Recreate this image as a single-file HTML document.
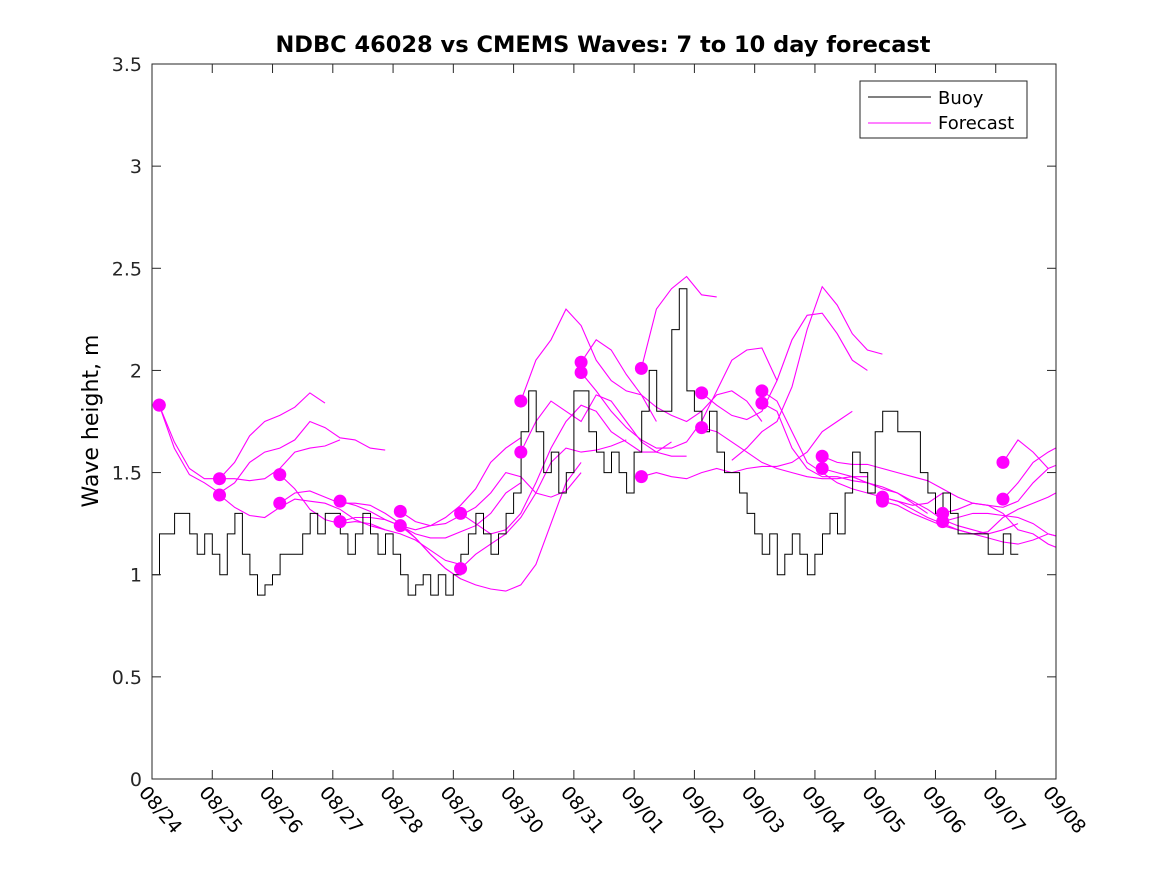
<!DOCTYPE html>
<html><head><meta charset="utf-8"><style>
body{margin:0;background:#fff}
svg{display:block;font-family:"DejaVu Sans","Liberation Sans",sans-serif}
</style></head><body>
<svg id="chart" width="1167" height="875" viewBox="0 0 1167 875">
<rect x="0" y="0" width="1167" height="875" fill="#fff"/>
<text x="603" y="52" text-anchor="middle" font-size="22.5" font-weight="bold">NDBC 46028 vs CMEMS Waves: 7 to 10 day forecast</text>
<text transform="translate(98,421) rotate(-90)" text-anchor="middle" font-size="22">Wave height, m</text>
<defs><clipPath id="pc"><rect x="152" y="64" width="904" height="715"/></clipPath></defs>
<g id="marks" clip-path="url(#pc)"></g>
<g id="dots"></g>
<rect x="152" y="64" width="904" height="715" fill="none" stroke="#262626" stroke-width="1"/>
<g id="axes"></g>
<g>
<rect x="860" y="81" width="167" height="57" fill="#fff" stroke="#262626"/>
<line x1="868" y1="97" x2="931" y2="97" stroke="#000"/>
<text x="938" y="104" font-size="18">Buoy</text>
<line x1="868" y1="123" x2="931" y2="123" stroke="#f0f"/>
<text x="938" y="129" font-size="18">Forecast</text>
</g>
</svg>
<script>
const xTickLabels=["08/24","08/25","08/26","08/27","08/28","08/29","08/30","08/31","09/01","09/02","09/03","09/04","09/05","09/06","09/07","09/08"];
const yTickValues=[0,0.5,1,1.5,2,2.5,3,3.5];
const yTickLabels=["0","0.5","1","1.5","2","2.5","3","3.5"];
// buoy values every 3 hours from 08/24 00:00
const buoyValues=[1.0,1.2,1.2,1.3,1.3,1.2,1.1,1.2,
1.1,1.0,1.2,1.3,1.1,1.0,0.9,0.95,
1.0,1.1,1.1,1.1,1.2,1.3,1.2,1.3,
1.3,1.2,1.1,1.2,1.3,1.2,1.1,1.2,
1.1,1.0,0.9,0.95,1.0,0.9,1.0,0.9,
1.0,1.1,1.2,1.3,1.2,1.1,1.2,1.3,
1.4,1.7,1.9,1.7,1.5,1.6,1.4,1.5,
1.9,1.9,1.7,1.6,1.5,1.6,1.5,1.4,
1.6,1.8,2.0,1.8,1.8,2.2,2.4,1.9,
1.8,1.7,1.8,1.6,1.5,1.5,1.4,1.3,
1.2,1.1,1.2,1.0,1.1,1.2,1.1,1.0,
1.1,1.2,1.3,1.2,1.4,1.6,1.5,1.4,
1.7,1.8,1.8,1.7,1.7,1.7,1.5,1.4,
1.3,1.4,1.3,1.2,1.2,1.2,1.2,1.1,
1.1,1.2,1.1];
// forecast start days (days since 08/24) and values every 6 hours
const fcStarts=[0.12,0.12,1.12,1.12,2.12,2.12,3.12,3.12,4.12,4.12,5.12,5.12,6.12,6.12,7.12,7.12,8.12,8.12,9.12,9.12,9.62,10.12,10.12,11.12,11.12,12.12,12.12,13.12,13.12,14.12,14.12];
const fcHasDot=[1,1,1,1,1,1,1,1,1,1,1,1,1,1,1,1,1,1,1,1,0,1,1,1,1,1,1,1,1,1,1];
const fcValues=[
[1.83,1.65,1.52,1.47,1.47,1.55,1.68,1.75,1.78,1.82,1.89,1.84],
[1.83,1.62,1.49,1.45,1.40,1.45,1.55,1.60,1.62,1.66,1.75,1.72,1.67,1.66,1.62,1.61],
[1.47,1.47,1.46,1.47,1.52,1.60,1.62,1.63,1.66],
[1.39,1.33,1.29,1.28,1.33,1.37,1.36,1.35,1.32,1.27,1.24,1.22],
[1.49,1.42,1.32,1.27,1.25,1.26,1.25,1.22,1.20,1.17,1.12,1.07,1.05],
[1.35,1.40,1.41,1.38,1.35,1.35,1.34,1.30,1.25,1.18,1.10,1.03,0.98],
[1.36,1.34,1.31,1.27,1.24,1.22,1.24,1.28,1.34,1.42,1.55,1.62,1.67],
[1.26,1.28,1.28,1.27,1.24,1.20,1.18,1.18,1.21,1.24,1.30,1.40,1.45],
[1.31,1.26,1.24,1.25,1.29,1.33,1.40,1.50,1.48,1.40,1.38,1.41,1.50],
[1.24,1.18,1.10,1.03,0.98,0.95,0.93,0.92,0.95,1.05,1.25,1.45,1.55],
[1.30,1.25,1.20,1.22,1.30,1.45,1.62,1.75,1.83,1.80,1.70,1.65,1.60,1.60,1.65],
[1.03,1.10,1.15,1.20,1.28,1.40,1.55,1.62,1.60,1.61,1.63,1.66],
[1.85,2.05,2.15,2.30,2.22,2.05,1.95,1.90,1.88,1.75],
[1.60,1.75,1.85,1.80,1.75,1.88,1.85,1.75,1.65,1.60,1.58,1.58],
[2.04,2.15,2.10,1.98,1.88,1.82,1.78,1.75,1.80,1.88,1.90,1.85,1.75],
[1.99,1.90,1.80,1.72,1.66,1.62,1.62,1.65,1.75,1.90,2.05,2.10,2.11,1.95],
[2.01,2.30,2.40,2.46,2.37,2.36],
[1.48,1.50,1.48,1.47,1.50,1.52,1.50,1.52,1.53,1.53,1.55,1.60,1.70,1.75,1.80],
[1.89,1.83,1.78,1.76,1.80,1.95,2.15,2.27,2.28,2.18,2.05,2.00],
[1.72,1.70,1.65,1.60,1.55,1.52,1.50,1.48,1.47,1.47,1.48,1.48],
[1.56,1.62,1.70,1.75,1.92,2.20,2.41,2.32,2.18,2.10,2.08],
[1.90,1.85,1.70,1.55,1.50,1.45,1.42,1.40,1.38,1.36,1.34,1.35,1.40],
[1.84,1.80,1.62,1.52,1.48,1.48,1.46,1.45,1.42,1.40,1.35,1.30],
[1.58,1.55,1.54,1.54,1.52,1.50,1.48,1.46,1.42,1.38,1.35,1.34,1.30,1.22,1.20,1.15,1.12,1.16],
[1.52,1.50,1.48,1.45,1.43,1.40,1.36,1.32,1.27,1.24,1.22,1.20,1.22,1.25],
[1.38,1.36,1.32,1.28,1.25,1.22,1.20,1.18,1.16,1.15,1.17,1.20,1.18,1.12,1.05,0.98],
[1.36,1.34,1.30,1.27,1.24,1.22,1.20,1.21,1.28,1.32,1.35,1.38,1.42,1.48,1.55,1.60,1.65],
[1.30,1.32,1.35,1.34,1.33,1.36,1.45,1.52,1.55,1.52,1.45,1.38],
[1.26,1.28,1.30,1.30,1.29,1.28,1.25,1.20,1.18,1.15],
[1.55,1.66,1.60,1.52],
[1.37,1.45,1.55,1.60,1.64]];
const NS='http://www.w3.org/2000/svg';
const X0=152,X1=1056,Y0=779,Y1=64,DAYS=15,YMAX=3.5;
function xs(d){return X0+(X1-X0)*d/DAYS;}
function ys(v){return Y0-(Y0-Y1)*v/YMAX;}
function mk(tag,attrs,parent){const e=document.createElementNS(NS,tag);for(const k in attrs)e.setAttribute(k,attrs[k]);parent.appendChild(e);return e;}
const axes=document.getElementById('axes'),marks=document.getElementById('marks'),dots=document.getElementById('dots');
xTickLabels.forEach((lab,i)=>{const x=xs(i);
 const t1=mk('line',{x1:x,y1:Y0,x2:x,y2:Y0-9,stroke:'#262626'},axes);
 
 
 const t2=mk('line',{x1:x,y1:Y1,x2:x,y2:Y1+9,stroke:'#262626'},axes);
 
 
 const tx=mk('text',{x:0,y:0,'font-size':19,transform:`translate(${x-14},${Y0+14}) rotate(50)`},axes);
 tx.textContent=lab;
 
 
});
yTickValues.forEach((v,i)=>{const y=ys(v);
 const t1=mk('line',{x1:X0,y1:y,x2:X0+9,y2:y,stroke:'#262626'},axes);
 
 
 const t2=mk('line',{x1:X1,y1:y,x2:X1-9,y2:y,stroke:'#262626'},axes);
 
 
 const tx=mk('text',{x:X0-10,y:y+7,'font-size':19,'text-anchor':'end',fill:'#262626'},axes);
 tx.textContent=yTickLabels[i];
 
 
});
fcValues.forEach((vals,i)=>{const s=fcStarts[i];
 const pts=vals.map((v,j)=>xs(s+j*0.25).toFixed(1)+','+ys(v).toFixed(1)).join(' ');
 const pl=mk('polyline',{points:pts,fill:'none',stroke:'#f0f','stroke-width':1.1},marks);
 
 
 if(fcHasDot[i]){const c=mk('circle',{cx:xs(s),cy:ys(vals[0]),r:6.5,fill:'#f0f'},dots);
  
  }
});
let bp=[];buoyValues.forEach((v,j)=>{const x0=xs(j/8),x1=xs((j+1)/8);bp.push(x0.toFixed(1)+','+ys(v).toFixed(1));bp.push(x1.toFixed(1)+','+ys(v).toFixed(1));});
const bl=mk('polyline',{points:bp.join(' '),fill:'none',stroke:'#000','stroke-width':1},marks);


</script>
</body></html>
